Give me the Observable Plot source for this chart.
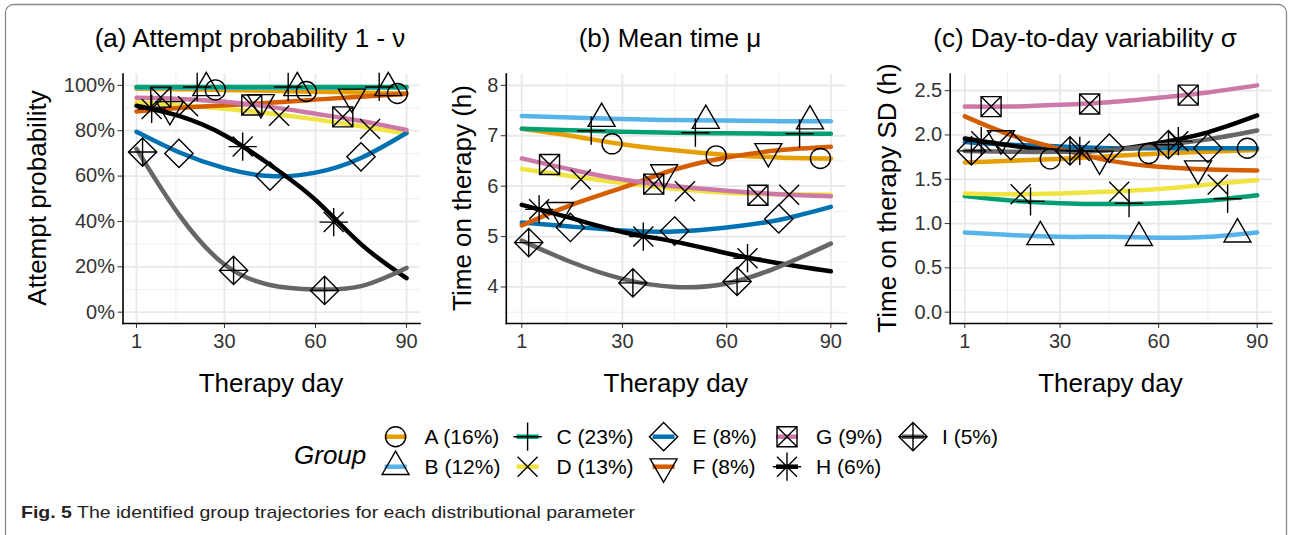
<!DOCTYPE html>
<html><head><meta charset="utf-8">
<script src="https://cdn.jsdelivr.net/npm/d3@7"></script>
<script src="https://cdn.jsdelivr.net/npm/@observablehq/plot@0.6"></script>
<style>
body{margin:0;background:#fff;}
#fig{position:relative;width:1289px;height:535px;overflow:hidden;background:#fff;font-family:"Liberation Sans",Arial,Helvetica,sans-serif;}
#fig svg{position:absolute;}
</style></head><body><div id="fig"></div>
<script>
// ---------- data ----------
const groups = ["A","B","C","D","E","F","G","H","I"];
const groupLabels = ["A (16%)","B (12%)","C (23%)","D (13%)","E (8%)","F (8%)","G (9%)","H (6%)","I (5%)"];
const groupColors = ["#E69F00","#56B4E9","#009E73","#F0E442","#0072B2","#D55E00","#CC79A7","#000000","#666666"];
const curveDays = [1, 15, 30, 45, 60, 75, 90];
const markerDays = [[27,57,87],[24,54,84],[21,51,81],[18,48,78],[15,45,75],[12,42,72],[9,39,69],[6,36,66],[3,33,63]];
const dayTicks = [1, 30, 60, 90];
const dayMinor = [14, 45, 75];

const panelTitles = ["(a) Attempt probability 1 - \u03BD", "(b) Mean time \u03BC", "(c) Day-to-day variability \u03C3"];
const yTitles = ["Attempt probability", "Time on therapy (h)", "Time on therapy SD (h)"];
const xTitle = "Therapy day";

// (a) attempt probability, %
const attemptCurves = [
  [98.5, 98.3, 98, 97.6, 97.2, 96.8, 96.3],
  [98.9, 98.9, 98.9, 98.9, 98.9, 98.9, 98.9],
  [99.3, 99.3, 99.3, 99.3, 99.3, 99.3, 99.3],
  [92.5, 91.3, 89.7, 87.6, 85, 82, 78.8],
  [79.5, 70.5, 63.5, 60, 61.5, 68, 79],
  [88.5, 90, 91.2, 92.3, 93.7, 95, 96.3],
  [94.5, 94, 92.8, 90.5, 87.5, 84.3, 80.3],
  [91, 86.5, 78, 65, 49.5, 30, 15],
  [72, 43, 21, 12, 10, 11.5, 19.5]
];
const attemptMarkers = [
  [98, 97.3, 96.4],[98.9, 98.9, 98.9],[99.3, 99.3, 99.3],[90.8, 86.6, 80.8],[70, 60, 68.5],
  [89.4, 92.5, 94.9],[94.8, 91.3, 86.1],[89.6, 73, 39.7],[70.6, 18.4, 9.6]
];
const attemptTicks = [0, 20, 40, 60, 80, 100];
const attemptMinor = [10, 30, 50, 70, 90];
const attemptLimits = [0, 100];

// (b) mean time, h
const meanCurves = [
  [7.14, 7.0, 6.83, 6.71, 6.62, 6.57, 6.55],
  [7.39, 7.36, 7.33, 7.31, 7.3, 7.29, 7.29],
  [7.14, 7.11, 7.08, 7.06, 7.05, 7.04, 7.04],
  [6.34, 6.2, 6.06, 5.95, 5.87, 5.84, 5.83],
  [5.28, 5.2, 5.12, 5.1, 5.18, 5.33, 5.59],
  [5.22, 5.62, 5.97, 6.33, 6.57, 6.71, 6.78],
  [6.55, 6.33, 6.13, 6.0, 5.91, 5.84, 5.8],
  [5.63, 5.37, 5.09, 4.9, 4.67, 4.47, 4.31],
  [4.92, 4.5, 4.16, 4.0, 4.07, 4.4, 4.86]
];
const meanMarkers = [
  [6.84, 6.6, 6.55],[7.34, 7.3, 7.29],[7.1, 7.06, 7.04],[6.13, 5.9, 5.83],[5.18, 5.11, 5.35],
  [5.52, 6.27, 6.69],[6.43, 6.04, 5.82],[5.54, 5.0, 4.57],[4.88, 4.08, 4.11]
];
const meanTicks = [4, 5, 6, 7, 8];
const meanMinor = [3.5, 4.5, 5.5, 6.5, 7.5];
const meanLimits = [3.5, 8];

// (c) day-to-day SD, h
const sdCurves = [
  [1.69, 1.71, 1.73, 1.76, 1.79, 1.81, 1.83],
  [0.9, 0.87, 0.85, 0.85, 0.84, 0.85, 0.9],
  [1.31, 1.26, 1.23, 1.22, 1.23, 1.26, 1.32],
  [1.34, 1.33, 1.34, 1.36, 1.39, 1.44, 1.49],
  [1.92, 1.89, 1.87, 1.85, 1.85, 1.85, 1.85],
  [2.21, 2.0, 1.84, 1.71, 1.64, 1.61, 1.6],
  [2.32, 2.32, 2.34, 2.37, 2.42, 2.48, 2.56],
  [1.96, 1.88, 1.82, 1.83, 1.91, 2.03, 2.22],
  [1.82, 1.81, 1.81, 1.83, 1.88, 1.95, 2.05]
];
const sdMarkers = [
  [1.73, 1.79, 1.85],[0.85, 0.84, 0.88],[1.25, 1.23, 1.28],[1.33, 1.36, 1.44],[1.88, 1.85, 1.85],
  [1.96, 1.73, 1.62],[2.32, 2.35, 2.45],[1.93, 1.82, 1.93],[1.82, 1.82, 1.89]
];
const sdTicks = [0, 0.5, 1, 1.5, 2, 2.5];
const sdMinor = [0.25, 0.75, 1.25, 1.75, 2.25];
const sdLimits = [0, 2.56];

const legendTitle = "Group";
const captionBold = "Fig. 5";
const captionText = " The identified group trajectories for each distributional parameter";

// ---------- shapes (R pch 1..9) ----------
const SQ2 = Math.SQRT2;
const rad = s => Math.sqrt(s / Math.PI);
const shapes = [
  {draw(c,s){const r=rad(s); c.moveTo(r,0); c.arc(0,0,r,0,2*Math.PI); c.closePath();}},
  {draw(c,s){const r=rad(s); c.moveTo(0,-1.5551*r); c.lineTo(1.3468*r,0.7776*r); c.lineTo(-1.3468*r,0.7776*r); c.closePath();}},
  {draw(c,s){const q=rad(s)*SQ2; c.moveTo(-q,0); c.lineTo(q,0); c.moveTo(0,-q); c.lineTo(0,q);}},
  {draw(c,s){const r=rad(s); c.moveTo(-r,-r); c.lineTo(r,r); c.moveTo(-r,r); c.lineTo(r,-r);}},
  {draw(c,s){const q=rad(s)*SQ2; c.moveTo(0,-q); c.lineTo(q,0); c.lineTo(0,q); c.lineTo(-q,0); c.closePath();}},
  {draw(c,s){const r=rad(s); c.moveTo(0,1.5551*r); c.lineTo(1.3468*r,-0.7776*r); c.lineTo(-1.3468*r,-0.7776*r); c.closePath();}},
  {draw(c,s){const r=rad(s); c.rect(-r,-r,2*r,2*r); c.moveTo(-r,-r); c.lineTo(r,r); c.moveTo(-r,r); c.lineTo(r,-r);}},
  {draw(c,s){const r=rad(s), q=r*SQ2; c.moveTo(-r,-r); c.lineTo(r,r); c.moveTo(-r,r); c.lineTo(r,-r); c.moveTo(-q,0); c.lineTo(q,0); c.moveTo(0,-q); c.lineTo(0,q);}},
  {draw(c,s){const q=rad(s)*SQ2; c.moveTo(0,-q); c.lineTo(q,0); c.lineTo(0,q); c.lineTo(-q,0); c.closePath(); c.moveTo(-q,0); c.lineTo(q,0); c.moveTo(0,-q); c.lineTo(0,q);}}
];

const expand = ([lo, hi]) => [lo - 0.05 * (hi - lo), hi + 0.05 * (hi - lo)];
const fig = document.getElementById("fig");
const FONT = "'Liberation Sans', Arial, Helvetica, sans-serif";

function panel(cfg) {
  const lineData = [], markData = [];
  groups.forEach((g, i) => curveDays.forEach((d, j) => lineData.push({group: g, day: d, value: cfg.curves[i][j]})));
  groups.forEach((g, i) => markerDays[i].forEach((d, j) => markData.push({group: g, day: d, value: cfg.markers[i][j]})));
  const chart = Plot.plot({
    width: cfg.width, height: 360,
    marginLeft: cfg.ml, marginRight: cfg.mr, marginTop: 73.5, marginBottom: 37,
    style: {fontFamily: FONT, fontSize: "20px", color: "#333", background: "none", overflow: "visible"},
    x: {domain: expand(d3.extent(curveDays))},
    y: {domain: expand(cfg.limits)},
    color: {domain: groups, range: groupColors},
    marks: [
      Plot.gridX(dayMinor, {stroke: "#efefef", strokeOpacity: 1, strokeWidth: 1}),
      Plot.gridY(cfg.minor, {stroke: "#efefef", strokeOpacity: 1, strokeWidth: 1}),
      Plot.gridX(dayTicks, {stroke: "#e8e8e8", strokeOpacity: 1, strokeWidth: 1.8}),
      Plot.gridY(cfg.ticks, {stroke: "#e8e8e8", strokeOpacity: 1, strokeWidth: 1.8}),
      Plot.line(lineData, {x: "day", y: "value", z: "group", stroke: "group", strokeWidth: 4.5, curve: "natural"}),
      ...groups.map((g, i) => Plot.dot(markData.filter(d => d.group === g),
        {x: "day", y: "value", r: 10, symbol: shapes[i], stroke: "black", fill: "none", strokeWidth: 1.4})),
      Plot.axisX(dayTicks, {tickSize: 5, tickPadding: 5, label: null, stroke: "#333"}),
      Plot.axisY(cfg.ticks, {tickSize: 5, tickPadding: 3, label: null, tickFormat: cfg.format, stroke: "#333"}),
      Plot.frame({anchor: "left", stroke: "black", strokeWidth: 1.6}),
      Plot.frame({anchor: "bottom", stroke: "black", strokeWidth: 1.6})
    ]
  });
  chart.style.left = cfg.left + "px";
  chart.style.top = "0px";
  fig.appendChild(chart);
}

panel({curves: attemptCurves, markers: attemptMarkers, ticks: attemptTicks, minor: attemptMinor, limits: attemptLimits,
  format: d => d + "%", left: 0, width: 430, ml: 122.5, mr: 10.5});
panel({curves: meanCurves, markers: meanMarkers, ticks: meanTicks, minor: meanMinor, limits: meanLimits,
  format: d3.format("d"), left: 430, width: 425, ml: 75.8, mr: 9.2});
panel({curves: sdCurves, markers: sdMarkers, ticks: sdTicks, minor: sdMinor, limits: sdLimits,
  format: d3.format(".1f"), left: 855, width: 434, ml: 94.7, mr: 17.7});

// ---------- overlay: titles, axis titles, legend, caption ----------
const ov = d3.select(fig).append("svg")
  .attr("width", 1289).attr("height", 535)
  .style("left", "0px").style("top", "0px").style("pointer-events", "none")
  .attr("font-family", FONT);

ov.append("rect").attr("x", 5.5).attr("y", 4.5).attr("width", 1281).attr("height", 620).attr("rx", 8)
  .attr("fill", "none").attr("stroke", "#8a8a8a").attr("stroke-width", 1.3);

const titleX = [250, 670, 1085];
panelTitles.forEach((t, i) => ov.append("text").attr("x", titleX[i]).attr("y", 47)
  .attr("text-anchor", "middle").attr("font-size", 26).attr("fill", "#000").text(t));

const xTitleX = [271, 675.8, 1110.5];
xTitleX.forEach(x => ov.append("text").attr("x", x).attr("y", 392)
  .attr("text-anchor", "middle").attr("font-size", 26).attr("fill", "#000").text(xTitle));

const yTitleX = [46, 471, 896];
yTitles.forEach((t, i) => ov.append("text")
  .attr("transform", `translate(${yTitleX[i]},198) rotate(-90)`)
  .attr("text-anchor", "middle").attr("font-size", 26).attr("fill", "#000").text(t));

// legend
ov.append("text").attr("x", 294).attr("y", 464).attr("font-size", 26).attr("font-style", "italic")
  .attr("fill", "#000").text(legendTitle);
const keyX = [395.6, 527.6, 663.6, 787, 913];
const rowY = [436.7, 466.7];
groups.forEach((g, i) => {
  const cx = keyX[Math.floor(i / 2)], cy = rowY[i % 2];
  ov.append("line").attr("x1", cx - 11).attr("x2", cx + 11).attr("y1", cy).attr("y2", cy)
    .attr("stroke", groupColors[i]).attr("stroke-width", 4.5);
  ov.append("path").attr("d", d3.symbol(shapes[i], Math.PI * 100)())
    .attr("transform", `translate(${cx},${cy})`).attr("fill", "none").attr("stroke", "#000").attr("stroke-width", 1.4);
  ov.append("text").attr("x", cx + 29).attr("y", cy + 7.5).attr("font-size", 21).attr("fill", "#000").text(groupLabels[i]);
});

// caption
const cap = ov.append("text").attr("x", 21).attr("y", 518).attr("font-size", 17).attr("fill", "#222")
  .attr("font-family", "'Liberation Sans Narrow', 'Liberation Sans', Arial, sans-serif")
  .attr("textLength", 614).attr("lengthAdjust", "spacingAndGlyphs");
cap.append("tspan").attr("font-weight", "bold").text(captionBold);
cap.append("tspan").text(captionText);
</script></body></html>
